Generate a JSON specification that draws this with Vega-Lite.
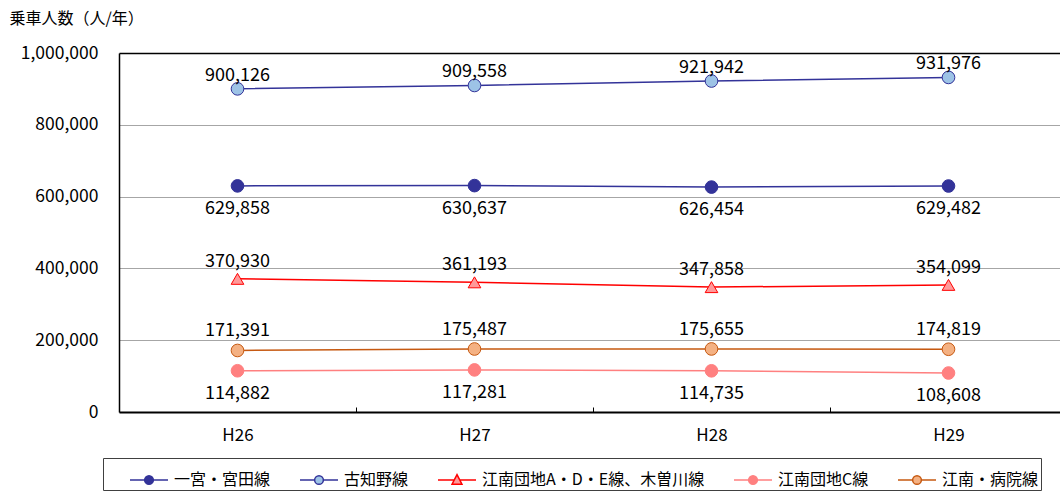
{
  "$schema": "https://vega.github.io/schema/vega-lite/v6.json",
  "width": 941,
  "height": 359,
  "autosize": {"type": "none"},
  "padding": {"left": 119, "top": 53, "right": 0, "bottom": 81},
  "config": {
    "font": "Noto Sans CJK JP",
    "view": {"stroke": null},
    "text": {"font": "Noto Sans CJK JP"}
  },
  "data": {
    "values": [
      {"series": "一宮・宮田線", "year": 26, "value": 629858},
      {"series": "一宮・宮田線", "year": 27, "value": 630637},
      {"series": "一宮・宮田線", "year": 28, "value": 626454},
      {"series": "一宮・宮田線", "year": 29, "value": 629482},
      {"series": "古知野線", "year": 26, "value": 900126},
      {"series": "古知野線", "year": 27, "value": 909558},
      {"series": "古知野線", "year": 28, "value": 921942},
      {"series": "古知野線", "year": 29, "value": 931976},
      {"series": "江南団地A・D・E線、木曽川線", "year": 26, "value": 370930},
      {"series": "江南団地A・D・E線、木曽川線", "year": 27, "value": 361193},
      {"series": "江南団地A・D・E線、木曽川線", "year": 28, "value": 347858},
      {"series": "江南団地A・D・E線、木曽川線", "year": 29, "value": 354099},
      {"series": "江南団地C線", "year": 26, "value": 114882},
      {"series": "江南団地C線", "year": 27, "value": 117281},
      {"series": "江南団地C線", "year": 28, "value": 114735},
      {"series": "江南団地C線", "year": 29, "value": 108608},
      {"series": "江南・病院線", "year": 26, "value": 171391},
      {"series": "江南・病院線", "year": 27, "value": 175487},
      {"series": "江南・病院線", "year": 28, "value": 175655},
      {"series": "江南・病院線", "year": 29, "value": 174819}
    ]
  },
  "encoding": {
    "x": {
      "field": "year",
      "type": "quantitative",
      "scale": {"domain": [25.5, 29.4705], "nice": false, "zero": false},
      "axis": {
        "title": null,
        "values": [26, 26.5, 27, 27.5, 28, 28.5, 29],
        "labelExpr": "datum.value % 1 === 0 ? 'H' + datum.value : ''",
        "labelFlush": false,
        "labelOverlap": false,
        "labelFontSize": 17,
        "labelColor": "#000000",
        "labelPadding": 20,
        "tickSize": -5,
        "tickColor": "#000000",
        "tickWidth": 1,
        "tickOpacity": {"condition": {"test": "datum.value % 1 === 0", "value": 0}, "value": 1},
        "domainColor": "#000000",
        "domainWidth": 2,
        "grid": false
      }
    },
    "y": {
      "field": "value",
      "type": "quantitative",
      "scale": {"domain": [0, 1000000], "nice": false},
      "axis": {
        "values": [0, 200000, 400000, 600000, 800000, 1000000],
        "format": ",.0f",
        "grid": true,
        "gridColor": {"condition": {"test": "datum.value === 1000000", "value": "#000000"}, "value": "#A6A6A6"},
        "gridWidth": {"condition": {"test": "datum.value === 1000000", "value": 1.5}, "value": 1},
        "ticks": false,
        "domainColor": "#000000",
        "domainWidth": 1.5,
        "labelFontSize": 17.5,
        "labelColor": "#000000",
        "labelPadding": 21,
        "title": "乗車人数（人/年）",
        "titleAngle": 0,
        "titleX": -110,
        "titleY": -35,
        "titleAlign": "left",
        "titleBaseline": "middle",
        "titleFontSize": 16,
        "titleFontWeight": "normal",
        "titleColor": "#000000"
      }
    }
  },
  "layer": [
    {
      "mark": {"type": "line", "strokeWidth": 1.5},
      "encoding": {
        "color": {
          "field": "series",
          "type": "nominal",
          "scale": {
            "domain": ["一宮・宮田線", "古知野線", "江南団地A・D・E線、木曽川線", "江南団地C線", "江南・病院線"],
            "range": ["#333399", "#333399", "#FF0000", "#FF8080", "#C65911"]
          },
          "legend": null
        }
      }
    },
    {
      "mark": {"type": "point", "filled": true, "size": 160, "strokeWidth": 1, "opacity": 1},
      "encoding": {
        "stroke": {
          "field": "series",
          "type": "nominal",
          "scale": {
            "domain": ["一宮・宮田線", "古知野線", "江南団地A・D・E線、木曽川線", "江南団地C線", "江南・病院線"],
            "range": ["#333399", "#333399", "#FF0000", "#FF8080", "#C65911"]
          },
          "legend": null
        },
        "fill": {
          "field": "series",
          "type": "nominal",
          "scale": {
            "domain": ["一宮・宮田線", "古知野線", "江南団地A・D・E線、木曽川線", "江南団地C線", "江南・病院線"],
            "range": ["#333399", "#9DC3E6", "#FF9999", "#FF8080", "#F4B183"]
          },
          "legend": null
        },
        "shape": {
          "field": "series",
          "type": "nominal",
          "scale": {
            "domain": ["一宮・宮田線", "古知野線", "江南団地A・D・E線、木曽川線", "江南団地C線", "江南・病院線"],
            "range": ["circle", "circle", "triangle-up", "circle", "circle"]
          },
          "legend": null
        }
      }
    },
    {
      "transform": [{"filter": "datum.series === '古知野線'"}],
      "mark": {"type": "text", "fontSize": 18, "color": "#000000", "dy": -13, "baseline": "middle"},
      "encoding": {"text": {"field": "value", "type": "quantitative", "format": ","}}
    },
    {
      "transform": [{"filter": "datum.series === '一宮・宮田線'"}],
      "mark": {"type": "text", "fontSize": 18, "color": "#000000", "dy": 23, "baseline": "middle"},
      "encoding": {"text": {"field": "value", "type": "quantitative", "format": ","}}
    },
    {
      "transform": [{"filter": "datum.series === '江南団地A・D・E線、木曽川線'"}],
      "mark": {"type": "text", "fontSize": 18, "color": "#000000", "dy": -17, "baseline": "middle"},
      "encoding": {"text": {"field": "value", "type": "quantitative", "format": ","}}
    },
    {
      "transform": [{"filter": "datum.series === '江南・病院線'"}],
      "mark": {"type": "text", "fontSize": 18, "color": "#000000", "dy": -19, "baseline": "middle"},
      "encoding": {"text": {"field": "value", "type": "quantitative", "format": ","}}
    },
    {
      "transform": [{"filter": "datum.series === '江南団地C線'"}],
      "mark": {"type": "text", "fontSize": 18, "color": "#000000", "dy": 23, "baseline": "middle"},
      "encoding": {"text": {"field": "value", "type": "quantitative", "format": ","}}
    },
    {
      "transform": [{"filter": "false"}],
      "mark": {"type": "point", "filled": true, "strokeWidth": 1.5, "opacity": 1},
      "encoding": {
        "stroke": {
          "field": "series",
          "type": "nominal",
          "scale": {
            "domain": ["一宮・宮田線", "古知野線", "江南団地A・D・E線、木曽川線", "江南団地C線", "江南・病院線"],
            "range": ["#333399", "#333399", "#FF0000", "#FF8080", "#C65911"]
          },
          "legend": {
            "orient": "none",
            "legendX": -16,
            "legendY": 405,
            "direction": "horizontal",
            "title": " ",
            "titleOrient": "left",
            "titleFontSize": 1,
            "titlePadding": 24,
            "padding": 2,
            "strokeColor": "#404040",
            "fillColor": "#FFFFFF",
            "columnPadding": 26,
            "labelOffset": 5,
            "labelFontSize": 16,
            "labelColor": "#000000",
            "labelLimit": 400,
            "labelExpr": "datum.label === '江南・病院線' ? datum.label + '　' : datum.label",
            "symbolSize": 1444,
            "symbolStrokeWidth": 1.5,
            "symbolOpacity": 1
          }
        },
        "fill": {
          "field": "series",
          "type": "nominal",
          "scale": {
            "domain": ["一宮・宮田線", "古知野線", "江南団地A・D・E線、木曽川線", "江南団地C線", "江南・病院線"],
            "range": ["#333399", "#9DC3E6", "#FF9999", "#FF8080", "#F4B183"]
          }
        },
        "shape": {
          "field": "series",
          "type": "nominal",
          "scale": {
            "domain": ["一宮・宮田線", "古知野線", "江南団地A・D・E線、木曽川線", "江南団地C線", "江南・病院線"],
            "range": [
              "M-1,0L-0.23,0M0.23,0L1,0M-0.23,0A0.23,0.23 0 1,0 0.23,0A0.23,0.23 0 1,0 -0.23,0Z",
              "M-1,0L-0.23,0M0.23,0L1,0M-0.23,0A0.23,0.23 0 1,0 0.23,0A0.23,0.23 0 1,0 -0.23,0Z",
              "M-1,0L-0.15,0M0.15,0L1,0M0,-0.28L0.26,0.22L-0.26,0.22Z",
              "M-1,0L-0.23,0M0.23,0L1,0M-0.23,0A0.23,0.23 0 1,0 0.23,0A0.23,0.23 0 1,0 -0.23,0Z",
              "M-1,0L-0.23,0M0.23,0L1,0M-0.23,0A0.23,0.23 0 1,0 0.23,0A0.23,0.23 0 1,0 -0.23,0Z"
            ]
          }
        }
      }
    }
  ],
  "resolve": {"scale": {"stroke": "independent", "fill": "independent", "shape": "independent"}}
}
